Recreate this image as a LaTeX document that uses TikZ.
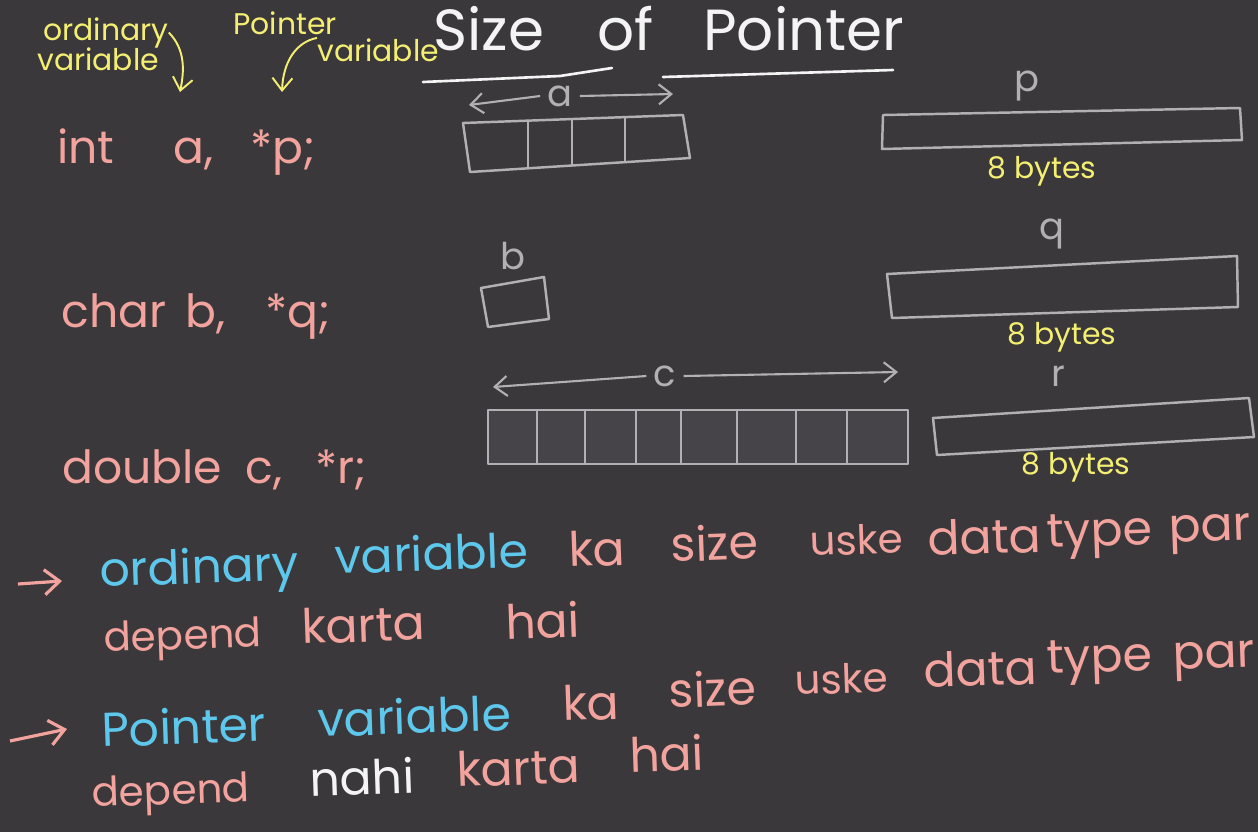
\documentclass[tikz,border=0pt]{standalone}
\usepackage{fontspec}
\setmainfont{Poppins}
\usepackage{tikz}
\usetikzlibrary{arrows.meta,positioning}

\definecolor{board}{HTML}{3A383B}
\definecolor{chalkpink}{HTML}{F2A39D}
\definecolor{chalkblue}{HTML}{5EC8EC}
\definecolor{chalkyel}{HTML}{F4EF72}
\definecolor{chalkgray}{HTML}{B2B0B2}
\definecolor{chalkwhite}{HTML}{F4F4F4}
\definecolor{cellfill}{HTML}{464448}

\begin{document}
\begin{tikzpicture}[
  x=0.2mm, y=-0.2mm,
  title/.style={text=chalkwhite,font=\fontsize{33}{36}\selectfont,anchor=base west,inner sep=0pt},
  code/.style={text=chalkpink,font=\fontsize{26}{30}\selectfont,anchor=base west,inner sep=0pt},
  note/.style={text=chalkyel,font=\fontsize{17}{18}\selectfont,anchor=base west,inner sep=0pt},
  lbl/.style={text=chalkgray,font=\fontsize{21}{22}\selectfont,inner sep=4pt},
  bytes/.style={text=chalkyel,font=\fontsize{17}{18}\selectfont,inner sep=0pt},
  say/.style={text=chalkpink,font=\fontsize{27}{30}\selectfont,anchor=base west,inner sep=0pt,rotate=2},
  small/.style={font=\fontsize{23}{26}\selectfont},
  mem/.style={draw=chalkgray,line width=1.4pt,line join=round},
  dim/.style={draw=chalkgray,line width=1.2pt,-{Straight Barb[length=2.5mm,width=4mm]}},
  yarr/.style={draw=chalkyel,line width=1.1pt,-{Straight Barb[length=2.5mm,width=4mm]}},
  parr/.style={draw=chalkpink,line width=1.8pt,-{Straight Barb[length=3mm,width=5mm]}}
]
  \useasboundingbox (0,0) rectangle (1258,832);
  \fill[board] (0,0) rectangle (1258,832);

  % heading
  \node[title] (tSize) at (433,50) {Size};
  \node[title] (tOf) at (597,50) {of};
  \node[title] (tPtr) at (703,50) {Pointer};
  \draw[chalkwhite,line width=1.5pt,line cap=round] (423,82) -- (560,76) -- (612,68);
  \draw[chalkwhite,line width=1.5pt,line cap=round] (663,77) -- (893,70);

  % side notes
  \node[note] (nOrd1) at (43,40) {ordinary};
  \node[note] (nOrd2) at (37,70) {variable};
  \node[note] (nPtr1) at (233,34) {Pointer};
  \node[note] (nPtr2) at (317,61) {variable};
  \coordinate (ordTip) at (180,92);
  \coordinate (ptrTip) at (282,92);
  \draw[yarr] (nOrd1.east) .. controls (186,50) and (184,72) .. (ordTip);
  \draw[yarr] (nPtr2.north west) .. controls (296,42) and (283,62) .. (ptrTip);

  % declarations
  \node[code] (cInt) at (57,163) {int};
  \node[code] (cA) at (173,163) {a,};
  \node[code] (cP) at (250,163) {*p;};
  \node[code] (cChar) at (61,327) {char};
  \node[code] (cB) at (185,327) {b,};
  \node[code] (cQ) at (265,327) {*q;};
  \node[code] (cDouble) at (62,483) {double};
  \node[code] (cC) at (245,483) {c,};
  \node[code] (cR) at (315,483) {*r;};

  % int a : 4 cells
  \node[lbl] (lblA) at (560,96) {a};
  \coordinate (aLeft) at (469,105);
  \coordinate (aRight) at (673,94);
  \draw[dim] (lblA.west) -- (aLeft);
  \draw[dim] (lblA.east) -- (aRight);
  \draw[mem] (463,123) -- (683,115) -- (690,158) -- (470,172) -- cycle;
  \foreach \x/\t/\b in {528/121/168, 572/119/166, 625/117/162}
    \draw[mem] (\x,\t) -- (\x,\b);

  % char b : 1 cell
  \node[lbl] (lblB) at (513,256) {b};
  \draw[mem] (481,288) -- (544,277) -- (549,319) -- (488,327) -- cycle;

  % double c : 8 cells
  \node[lbl] (lblC) at (665,376) {c};
  \coordinate (cLeft) at (493,387);
  \coordinate (cRight) at (898,372);
  \draw[dim] (lblC.west) -- (cLeft);
  \draw[dim] (lblC.east) -- (cRight);
  \draw[mem,fill=cellfill] (488,410) rectangle (908,464);
  \foreach \x in {537,585,636,681,737,796,847}
    \draw[mem] (\x,410) -- (\x,464);

  % pointers : 8 bytes each
  \node[lbl] (lblP) at (1027,86) {p};
  \draw[mem] (883,115) -- (1240,108) -- (1242,140) -- (882,149) -- cycle;
  \node[bytes] (byP) at (1042,171) {8 bytes};
  \node[lbl] (lblQ) at (1052,234) {q};
  \draw[mem] (887,274) -- (1237,256) -- (1238,307) -- (892,318) -- cycle;
  \node[bytes] (byQ) at (1062,337) {8 bytes};
  \node[lbl] (lblR) at (1058,376) {r};
  \draw[mem] (933,418) -- (1249,398) -- (1254,437) -- (937,455) -- cycle;
  \node[bytes] (byR) at (1076,467) {8 bytes};

  % first point
  \coordinate (bul1) at (18,584);
  \coordinate (bul1Tip) at (62,581);
  \draw[parr] (bul1) -- (bul1Tip);
  \node[say,text=chalkblue] (sOrd) at (100,587) {ordinary};
  \node[say,text=chalkblue] (sVar) at (335,574) {variable};
  \node[say] (sKa) at (569,567) {ka};
  \node[say] (sSize) at (671,562) {size};
  \node[say,small] (sUske) at (810,556) {uske};
  \node[say] (sData) at (928,556) {data};
  \node[say] (sType) at (1047,548) {type};
  \node[say] (sPar) at (1169,543) {par};
  \node[say,small] (sDep) at (104,652) {depend};
  \node[say] (sKarta) at (302,644) {karta};
  \node[say] (sHai) at (506,640) {hai};

  % second point
  \coordinate (bul2) at (10,741);
  \coordinate (bul2Tip) at (67,729);
  \draw[parr] (bul2) -- (bul2Tip);
  \node[say,text=chalkblue] (sPtr) at (102,747) {Pointer};
  \node[say,text=chalkblue] (sVar2) at (318,737) {variable};
  \node[say] (sKa2) at (563,721) {ka};
  \node[say] (sSize2) at (669,708) {size};
  \node[say,small] (sUske2) at (795,695) {uske};
  \node[say] (sData2) at (924,688) {data};
  \node[say] (sType2) at (1047,674) {type};
  \node[say] (sPar2) at (1173,670) {par};
  \node[say,small] (sDep2) at (92,807) {depend};
  \node[say,text=chalkwhite] (sNahi) at (310,797) {nahi};
  \node[say] (sKarta2) at (457,787) {karta};
  \node[say] (sHai2) at (630,773) {hai};
\end{tikzpicture}
\end{document}
